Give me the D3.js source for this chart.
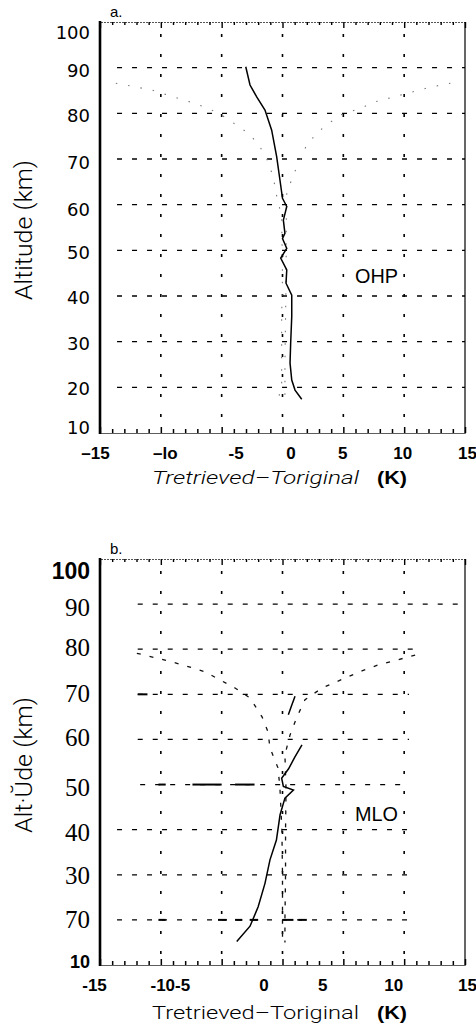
<!DOCTYPE html>
<html>
<head>
<meta charset="utf-8">
<script src="https://cdnjs.cloudflare.com/ajax/libs/d3/7.8.5/d3.min.js"></script>
<style>
body { margin: 0; background: #fff; }
svg { display: block; }
</style>
</head>
<body>
<script>
var width = 476
var height = 1033

var kTicks = [-15, -10, -5, 0, 5, 10, 15]
var altTicks = [100, 90, 80, 70, 60, 50, 40, 30, 20, 10]
var gridKs = [-10, -5, 0, 5, 10]

var ohpAltLabels = ['100', '90', '80', '70', '60', '50', '40', '30', '20', '10']
var ohpKLabels = ['–15', '–lo', '-5', '0', '5', '10', '15']
var mloAltLabels = ['100', '90', '80', '70', '60', '50', '40', '30', '70', '10']
var mloKLabels = ['-15', '-10-5', '', '0', '5', '10', '15']

// [altitude km, T retrieved - T original K]
var ohpMean = [[90.2, -3.02], [86.2, -2.67], [83.6, -2.12], [80.7, -1.44], [76.3, -0.89], [70.5, -0.48],
  [65.4, -0.21], [61.4, 0.0], [59.6, 0.35], [56.6, 0.07], [53.7, 0.2], [52.6, 0.0], [50.4, 0.35],
  [48.3, -0.15], [45.7, 0.35], [42.8, 0.29], [40.2, 0.76], [35.5, 0.76], [29.6, 0.67], [25.3, 0.62],
  [21.6, 0.76], [19.4, 1.03], [17.4, 1.58]]
var ohpLow = [[86.6, -13.7], [85.1, -10.75], [83.6, -8.97], [82.5, -7.6], [81.1, -6.1], [79.6, -5.0],
  [77.4, -3.76], [75.6, -2.81], [73.3, -1.99], [70.1, -1.3], [66.1, -0.76], [62.5, -0.53], [57.4, -0.07],
  [44.2, 0.0], [35.5, -0.07], [26, -0.07], [20.9, -0.07], [17.2, -0.35]]
var ohpHigh = [[86.6, 13.8], [85.7, 12.1], [82.5, 7.6], [81.1, 6.4], [79.6, 4.7], [76, 2.94], [73.1, 1.99],
  [66.5, 0.89], [62.5, 0.35], [55, 0.3], [45, 0.3], [35, 0.25], [25, 0.2], [17.2, 0.2]]

var mloMean = [[15.2, -3.76], [18.6, -2.67], [22.9, -2.0], [28.1, -1.44], [33.3, -1.03], [37.7, -0.5],
  [43.3, -0.2], [47, 0.2], [48.8, 0.9], [49.6, 0.07], [51.4, -0.07], [53.5, 0.5], [56, 1.0], [58.8, 1.6],
  null, [65.5, 0.48], [67.5, 0.75], [69.6, 1.03]]
var mloLow = [[79.1, -11.97], [77.6, -9.66], [76.5, -8.18], [75, -6.37], [73.2, -5.14], [71.4, -3.9],
  [69.2, -2.67], [65, -1.68], [61.7, -1.19], [58.1, -1.03], [53.7, -0.37], [49.2, -0.21], [40, -0.05],
  [30, 0.0], [20, 0.0], [15, 0.0]]
var mloHigh = [[78.7, 10.9], [77.6, 9.4], [76.5, 7.85], [75.2, 6.53], [73.6, 5.14], [71.4, 3.25],
  [68.8, 1.85], [65, 1.19], [61, 0.62], [56.6, 0.2], [48.8, 0.29], [40, 0.25], [30, 0.25], [20, 0.2], [15, 0.2]]

// dashed grid runs [altitude, from K, to K]
var ohpGrid = [[90, -13.6, 15], [80, -13.6, 15], [70, -13.6, 15], [60, -13.6, 15], [50, -13.6, 15],
  [40, -13.6, 15], [30, -13.6, 15], [20, -13.6, 15]]
var mloGrid = [[90, -11.9, 15], [80, -11.9, 10.9], [70, -11.9, 10.4], [60, -11.9, 10.4], [50, -11.7, 10.4],
  [40, -13.6, 10.4], [30, -13.6, 10.4], [20, -13.6, 10.4]]
var mloHeavy = [[70, -11.9, -11.1], [50, -10.2, -9.6], [50, -7.4, -5.0], [50, -3.9, -2.3], [20, -10.2, -9.6],
  [20, -5.3, -4.6], [20, -3.9, -3.3], [20, -2.7, -2.0], [20, 0, 0.9], [20, 1.3, 2.0]]

var svg = d3.select('body').append('svg')
    .attr('width', width)
    .attr('height', height)

svg.append('rect').attr('width', width).attr('height', height).style('fill', '#fff')

var thin = 'Roboto, Lato, "Open Sans", sans-serif'
var sans = 'Liberation Sans, Arial, sans-serif'

function panel (cfg) {
	var g = svg.append('g')

	var x = d3.scaleLinear()
	    .domain([-15, 15])
	    .range([100, 465])

	var y = d3.scaleLinear()
	    .domain([10, 100])
	    .range([cfg.bottom, cfg.top])

	// grid
	g.selectAll('.hgrid')
	    .data(cfg.grid)
	  .enter().append('line')
	    .attr('x1', function (d) {return x(d[1])})
	    .attr('x2', function (d) {return x(d[2])})
	    .attr('y1', function (d) {return y(d[0])})
	    .attr('y2', function (d) {return y(d[0])})
	    .style('stroke', '#000')
	    .style('stroke-width', 1.3)
	    .style('stroke-dasharray', '5,10')

	g.selectAll('.vgrid')
	    .data(gridKs)
	  .enter().append('line')
	    .attr('x1', function (d) {return x(d)})
	    .attr('x2', function (d) {return x(d)})
	    .attr('y1', y(100) + 12)
	    .attr('y2', y(10) - 8)
	    .style('stroke', '#000')
	    .style('stroke-width', 1.6)
	    .style('stroke-dasharray', '3,17')

	if (cfg.heavy) {
		g.selectAll('.heavy')
		    .data(cfg.heavy)
		  .enter().append('line')
		    .attr('x1', function (d) {return x(d[1])})
		    .attr('x2', function (d) {return x(d[2])})
		    .attr('y1', function (d) {return y(d[0])})
		    .attr('y2', function (d) {return y(d[0])})
		    .style('stroke', '#000')
		    .style('stroke-width', 2)
	}

	// top and bottom minor ticks every 1 K
	var minor = d3.range(-15, 16)
	var top = g.append('g')
	    .attr('transform', 'translate(0,' + y(100) + ')')
	    .call(d3.axisBottom(x).tickValues(minor).tickSize(3).tickFormat(''))
	top.select('.domain').style('stroke', '#555').style('stroke-dasharray', '2,1')
	top.selectAll('.tick line').style('stroke-width', 1.4)
	    .attr('y2', function (d) {return d % 5 === 0 ? 6 : 3})

	var bot = g.append('g')
	    .attr('transform', 'translate(0,' + y(10) + ')')
	    .call(d3.axisTop(x).tickValues(minor).tickSize(4).tickFormat(''))
	bot.select('.domain').style('stroke', '#333').style('stroke-width', 0.8)
	bot.selectAll('.tick line').style('stroke-width', 1.5)
	    .attr('y2', function (d) {return d % 5 === 0 ? -6 : -4})

	// frame
	g.append('line')
	    .attr('x1', x(-15)).attr('x2', x(-15))
	    .attr('y1', y(100) - 1).attr('y2', y(10) + 1)
	    .style('stroke', '#000').style('stroke-width', 2.6)
	g.append('line')
	    .attr('x1', x(15)).attr('x2', x(15))
	    .attr('y1', y(100)).attr('y2', y(10))
	    .style('stroke', '#000').style('stroke-width', 1.2)

	// curves
	var line = d3.line()
	    .defined(function (d) {return d})
	    .x(function (d) {return x(d[1])})
	    .y(function (d) {return y(d[0])})

	;[cfg.low, cfg.high].forEach(function (s) {
		g.append('path')
		    .datum(s)
		    .attr('d', line)
		    .style('fill', 'none')
		    .style('stroke', cfg.envColor)
		    .style('stroke-width', cfg.envWidth)
		    .style('stroke-dasharray', cfg.envDash)
	})

	g.append('path')
	    .datum(cfg.mean)
	    .attr('d', line)
	    .style('fill', 'none')
	    .style('stroke', '#000')
	    .style('stroke-width', 1.5)

	// y tick labels
	var ya = g.append('g')
	    .attr('transform', 'translate(90,0)')
	    .call(d3.axisLeft(y).tickValues(altTicks).tickSize(0)
	      .tickFormat(function (d, i) {return cfg.altLabels[i]}))
	ya.select('.domain').remove()
	ya.selectAll('text')
	    .attr('x', 0)
	    .attr('dy', function (d, i) {return cfg.altNudge[i]})
	    .attr('dominant-baseline', 'central')
	    .style('text-anchor', 'end')
	    .style('fill', '#000')
	    .each(function (d, i) {
	    	var f = cfg.altFont(i)
	    	d3.select(this)
	    	    .style('font-family', f[0])
	    	    .style('font-size', f[1] + 'px')
	    	    .style('font-weight', f[2])
	    })

	// x tick labels
	var xa = g.append('g')
	    .attr('transform', 'translate(0,' + cfg.xLabelY + ')')
	    .call(d3.axisBottom(x).tickValues(kTicks).tickSize(0)
	      .tickFormat(function (d, i) {return cfg.kLabels[i]}))
	xa.select('.domain').remove()
	xa.selectAll('text')
	    .attr('y', 0)
	    .attr('dy', 0)
	    .attr('dx', function (d, i) {return cfg.kNudge[i]})
	    .attr('dominant-baseline', 'central')
	    .style('fill', '#000')
	    .style('font-family', sans)
	    .style('font-size', '17px')
	    .style('font-weight', 'bold')

	// axis titles
	g.append('text')
	    .attr('x', 152)
	    .attr('y', cfg.titleY)
	    .attr('textLength', 207)
	    .attr('lengthAdjust', 'spacingAndGlyphs')
	    .style('font-family', thin)
	    .style('font-weight', 300)
	    .style('font-size', '19px')
	    .style('font-style', cfg.titleStyle)
	    .text('Tretrieved–Toriginal')
	g.append('text')
	    .attr('x', 377)
	    .attr('y', cfg.titleY)
	    .attr('textLength', 30)
	    .attr('lengthAdjust', 'spacingAndGlyphs')
	    .style('font-family', sans)
	    .style('font-size', '18px')
	    .style('font-weight', 'bold')
	    .text('(K)')

	g.append('text')
	    .attr('transform', 'translate(32,' + cfg.yTitleMid + ') rotate(-90)')
	    .attr('text-anchor', 'middle')
	    .attr('textLength', cfg.yTitleLen)
	    .attr('lengthAdjust', 'spacingAndGlyphs')
	    .style('font-family', thin)
	    .style('font-weight', 300)
	    .style('font-size', '23px')
	    .text(cfg.yTitle)

	g.append('text')
	    .attr('x', 110)
	    .attr('y', y(100) - 5)
	    .style('font-family', sans)
	    .style('font-size', '15px')
	    .text(cfg.tag)

	g.append('text')
	    .attr('x', 355)
	    .attr('y', cfg.siteY)
	    .attr('textLength', 43)
	    .attr('lengthAdjust', 'spacingAndGlyphs')
	    .style('font-family', sans)
	    .style('font-size', '21px')
	    .text(cfg.site)
}

panel({
	top: 22, bottom: 433,
	grid: ohpGrid,
	mean: ohpMean, low: ohpLow, high: ohpHigh,
	envColor: '#777', envWidth: 1.1, envDash: '1.5,11',
	altLabels: ohpAltLabels,
	altNudge: [10, 2, 2, 3, 4, 2, 1, 1, 1, -6],
	altFont: function () {return ['DejaVu Sans, sans-serif', 18, 'normal']},
	kLabels: ohpKLabels,
	kNudge: [-5, 4, 14, 8, -1, -2, 2],
	xLabelY: 453, titleY: 484, titleStyle: 'italic',
	yTitle: 'Altitude (km)', yTitleMid: 230, yTitleLen: 140,
	tag: 'a.', site: 'OHP', siteY: 283
})

panel({
	top: 559, bottom: 965,
	grid: mloGrid, heavy: mloHeavy,
	mean: mloMean, low: mloLow, high: mloHigh,
	envColor: '#111', envWidth: 1.3, envDash: '4,9',
	altLabels: mloAltLabels,
	altNudge: [11, 3, -2, -1, -2, 2, 2, 0, -1, -4],
	altFont: function (i) {
		if (i === 0) return [sans, 23, 'bold']
		if (i === 9) return [sans, 18, 'bold']
		return ['Liberation Serif, Times New Roman, serif', 25, 'normal']
	},
	kLabels: mloKLabels,
	kNudge: [-6, 9, 0, -19, -21, -11, 2],
	xLabelY: 985, titleY: 1019, titleStyle: 'normal',
	yTitle: 'Alt·Ŭde (km)', yTitleMid: 765, yTitleLen: 136,
	tag: 'b.', site: 'MLO', siteY: 821
})
</script>
</body>
</html>
